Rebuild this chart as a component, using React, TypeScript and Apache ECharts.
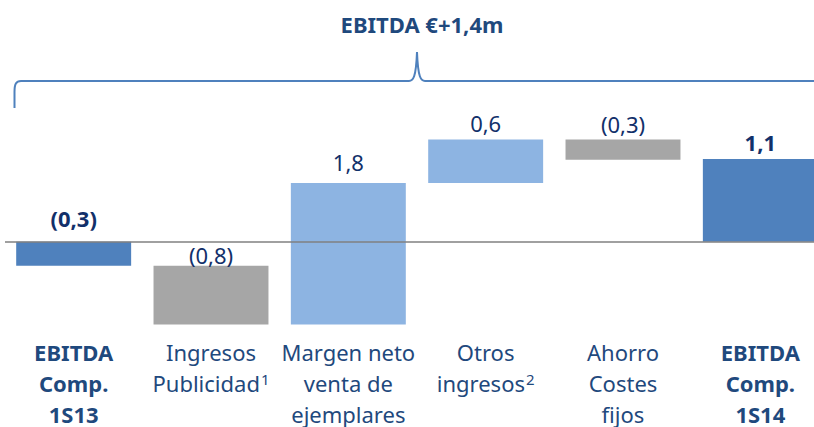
import React, { useEffect, useRef } from "react";
import * as echarts from "echarts";

// ---- data ----
const categories = [
  "EBITDA\nComp.\n1S13",
  "Ingresos\nPublicidad",
  "Margen neto\nventa de\nejemplares",
  "Otros\ningresos",
  "Ahorro\nCostes\nfijos",
  "EBITDA\nComp.\n1S14",
];
const footnotes = ["", "1", "", "2", "", ""];
const startValue = -0.32; // EBITDA Comp. 1S13
const changes = [-0.78, 1.88, 0.58, -0.27];
const endValue = 1.1; // EBITDA Comp. 1S14
const valueLabels = ["(0,3)", "(0,8)", "1,8", "0,6", "(0,3)", "1,1"];
const title = "EBITDA €+1,4m";

// ---- styles ----
const FONT = "'Noto Sans', 'Open Sans', sans-serif";
const TOTAL = "#4F81BD";
const POS = "#8DB4E2";
const NEG = "#A6A6A6";
const VALUE_COLOR = "#12306A";
const CAT_COLOR = "#1F497D";
const labelGaps = [16, 3, 13, 8, 7, 9];

function buildItems() {
  const items: any[] = [];
  items.push({ value: [0, Math.min(0, startValue), Math.max(0, startValue)], kind: "total" });
  let run = startValue;
  changes.forEach((c, i) => {
    const next = run + c;
    items.push({ value: [i + 1, Math.min(run, next), Math.max(run, next)], kind: c >= 0 ? "pos" : "neg" });
    run = next;
  });
  items.push({ value: [changes.length + 1, Math.min(0, endValue), Math.max(0, endValue)], kind: "total" });
  return items;
}

export default function App() {
  const ref = useRef<HTMLDivElement>(null);
  useEffect(() => {
    if (!ref.current) return;
    const BraceCls = echarts.graphic.extendPath(
      "M14.5,108 L14.5,92 C14.5,84 16,81 21,81 L409,81 C413,81 416,78 417,52 C418,78 421,81 425,81 L814,81",
      {}
    );
    echarts.graphic.registerShape("brace", BraceCls as any);

    const chart = echarts.init(ref.current, undefined, { renderer: "svg" });
    const items = buildItems();
    const total = items.length;

    const option: any = {
      animation: false,
      grid: { left: 5, top: 53.7, width: 824, height: 278.2 },
      xAxis: {
        type: "category",
        data: categories,
        axisLine: { show: false },
        axisTick: { show: false },
        axisLabel: {
          interval: 0,
          margin: 5,
          verticalAlign: "top",
          formatter: (value: string, index: number) => {
            const bold = index === 0 || index === total - 1;
            const st = bold ? "b" : "n";
            const lines = value.split("\n");
            return lines
              .map((l, i) => `{${st}|${l}}` + (i === lines.length - 1 && footnotes[index] ? `{sup|${footnotes[index]}}` : ""))
              .join("\n");
          },
          rich: {
            b: { fontFamily: FONT, fontSize: 22, fontWeight: "bold", color: CAT_COLOR, lineHeight: 31 },
            n: { fontFamily: FONT, fontSize: 22, fontWeight: "normal", color: CAT_COLOR, lineHeight: 31 },
            sup: { fontFamily: FONT, fontSize: 15, color: CAT_COLOR, lineHeight: 25, verticalAlign: "top", padding: [4, 0, 0, 1] },
          },
        },
      },
      yAxis: {
        type: "value",
        min: -1.2,
        max: 2.5,
        show: false,
        splitLine: { show: false },
      },
      series: [
        {
          type: "custom",
          encode: { x: 0, y: [1, 2] },
          data: items,
          renderItem: (params: any, api: any) => {
            const idx = api.value(0);
            const lo = api.value(1);
            const hi = api.value(2);
            const pTop = api.coord([idx, hi]);
            const pBot = api.coord([idx, lo]);
            const w = api.size([1, 0])[0] * 0.837;
            const kind = items[params.dataIndex].kind;
            const color = kind === "total" ? TOTAL : kind === "pos" ? POS : NEG;
            const bold = kind === "total";
            return {
              type: "group",
              children: [
                {
                  type: "rect",
                  shape: { x: pTop[0] - w / 2, y: pTop[1], width: w, height: pBot[1] - pTop[1] },
                  style: { fill: color },
                },
                {
                  type: "text",
                  x: pTop[0],
                  y: pTop[1] - labelGaps[params.dataIndex] - 8,
                  style: {
                    text: valueLabels[params.dataIndex],
                    fill: VALUE_COLOR,
                    fontFamily: FONT,
                    fontSize: 22,
                    fontWeight: bold ? "bold" : "normal",
                    align: "center",
                    verticalAlign: "middle",
                  },
                },
              ],
            };
          },
          markLine: {
            silent: true,
            symbol: "none",
            label: { show: false },
            lineStyle: { color: "#808080", width: 1.5, type: "solid" },
            data: [{ yAxis: 0 }],
          },
        },
      ],
      graphic: [
        {
          type: "text",
          x: 422,
          y: 24,
          style: {
            text: title,
            fill: CAT_COLOR,
            fontFamily: FONT,
            fontSize: 22,
            fontWeight: "bold",
            align: "center",
            verticalAlign: "middle",
          },
        },
        {
          type: "brace",
          x: 0,
          y: 0,
          style: { stroke: TOTAL, fill: "none", lineWidth: 2 },
        },
      ],
    };
    chart.setOption(option);
    return () => chart.dispose();
  }, []);

  return (
    <div
      style={{ position: "fixed", left: 0, top: 0, width: 814, height: 427, overflow: "hidden", background: "#fff" }}
    >
      <div ref={ref} style={{ width: 840, height: 427 }} />
    </div>
  );
}
